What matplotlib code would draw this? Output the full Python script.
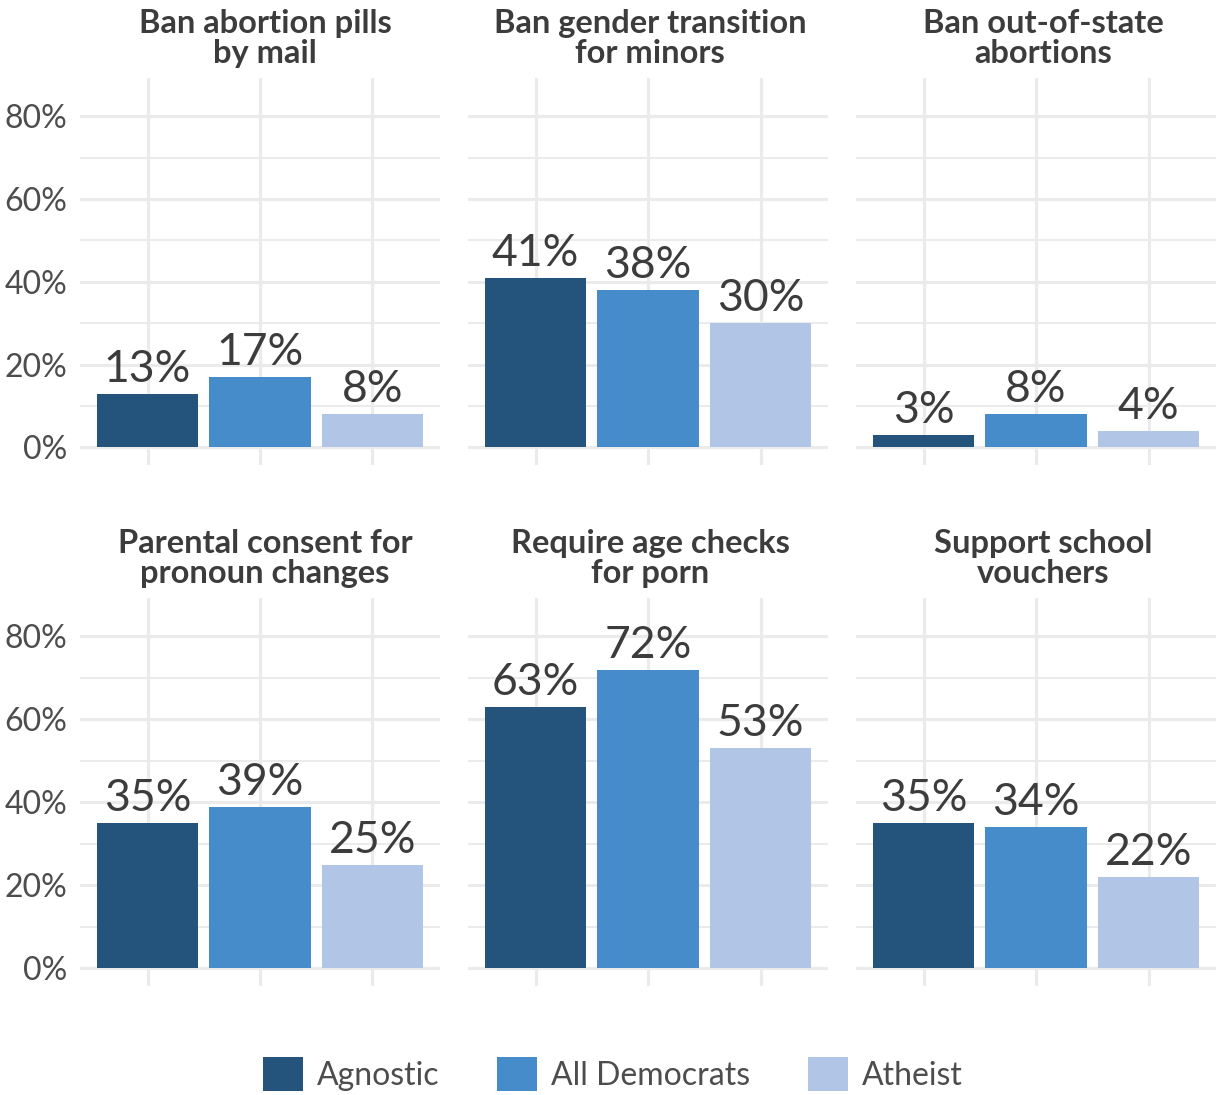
import matplotlib
matplotlib.use('Agg')
import matplotlib.pyplot as plt
from matplotlib.patches import Patch
import numpy as np

plt.rcParams['font.family'] = ['Lato', 'DejaVu Sans']

# Survey results (% supporting each policy)
groups = ['Agnostic', 'All Democrats', 'Atheist']
policies = ['Ban abortion pills\nby mail', 'Ban gender transition\nfor minors',
            'Ban out-of-state\nabortions', 'Parental consent for\npronoun changes',
            'Require age checks\nfor porn', 'Support school\nvouchers']
agnostic = [13, 41, 3, 35, 63, 35]
all_democrats = [17, 38, 8, 39, 72, 34]
atheist = [8, 30, 4, 25, 53, 22]
yticks = [0, 20, 40, 60, 80]
yticks_minor = [10, 30, 50, 70]

colors = ['#24547C', '#468BCA', '#B1C6E6']
text_dark = '#3C3C3C'
tick_col = '#4D4D4D'
grid_col = '#EBEBEB'

W, H = 1216, 1095
fig = plt.figure(figsize=(W / 100, H / 100), dpi=100)

col_left = [80, 468, 856]
title_shift = [5, 2, 7]
panel_w = 360
row_span = [(78, 465), (598, 986)]

series = [agnostic, all_democrats, atheist]
xpos = np.arange(1, len(groups) + 1)

for i, title in enumerate(policies):
    r, c = divmod(i, 3)
    top, bot = row_span[r]
    ax = fig.add_axes([col_left[c] / W, 1 - bot / H, panel_w / W, (bot - top) / H])
    vals = [s[i] for s in series]
    ax.bar(xpos, vals, width=0.9, color=colors, zorder=2)
    for x, v in zip(xpos, vals):
        ax.annotate(f'{v}%', xy=(x, v), xytext=(0, 12), textcoords='offset pixels',
                    ha='center', va='baseline', fontsize=32, color=text_dark, zorder=3)
    ax.set_xlim(0.4, 3.6)
    ax.set_ylim(-4.25, 89.25)
    ax.set_xticks(xpos)
    ax.set_xticklabels([])
    ax.set_yticks(yticks)
    ax.set_yticks(yticks_minor, minor=True)
    if c == 0:
        ax.set_yticklabels([f'{t}%' for t in yticks], fontsize=23, color=tick_col)
    else:
        ax.set_yticklabels([])
    ax.tick_params(axis='both', which='both', length=0, pad=9)
    ax.grid(axis='y', which='major', color=grid_col, lw=2.3, zorder=0)
    ax.grid(axis='y', which='minor', color=grid_col, lw=1.5, zorder=0)
    ax.grid(axis='x', which='major', color=grid_col, lw=2.3, zorder=0)
    ax.set_axisbelow(True)
    for s in ax.spines.values():
        s.set_visible(False)
    ax.annotate(title, xy=(0.5, 1), xycoords='axes fraction', xytext=(title_shift[c], 10),
                textcoords='offset pixels', ha='center', va='bottom',
                fontsize=23.5, fontweight='bold', color=text_dark, linespacing=1.04)

handles = [Patch(facecolor=col, edgecolor='none') for col in colors]
fig.legend(handles, groups, loc='center', bbox_to_anchor=(0.504, 0.019), ncol=3,
           frameon=False, fontsize=23, handlelength=1.25, handleheight=1.25,
           handletextpad=0.45, columnspacing=1.8, labelcolor=tick_col)

fig.savefig('out.png', dpi=100)
